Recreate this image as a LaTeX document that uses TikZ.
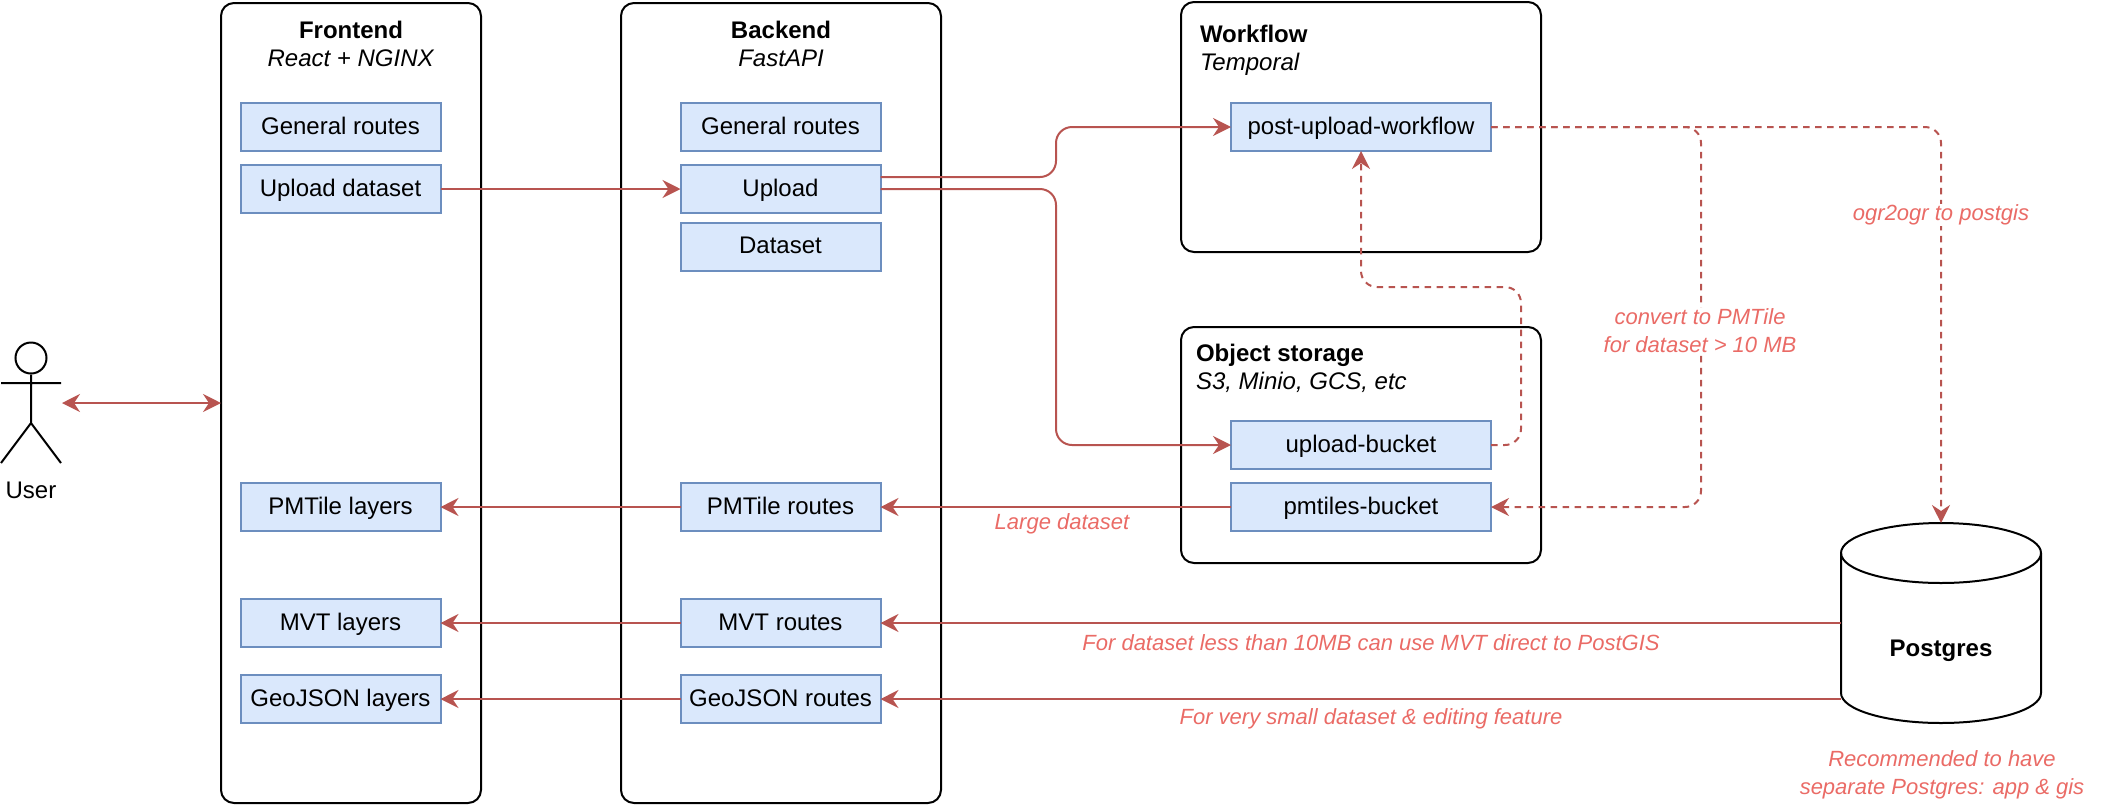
\documentclass[tikz,border=0pt]{standalone}
\usepackage{fontspec}
\setmainfont{Liberation Sans}
\usetikzlibrary{%
  positioning
 ,arrows.meta
}
\definecolor{boxfill}{HTML}{DAE8FC}
\definecolor{boxline}{HTML}{6C8EBF}
\definecolor{connline}{HTML}{B85450}
\definecolor{notetext}{HTML}{EA6B66}
\tikzstyle{arch}=[x=1pt,y=-1pt,on grid,line width=2pt,font=\fontsize{24}{28}\selectfont]
\tikzstyle{frame}=[draw=black,rounded corners=13pt,inner sep=0pt,outer sep=0pt]
\tikzstyle{st}=[draw=boxline,fill=boxfill,minimum height=48pt,inner sep=0pt,outer sep=0pt,text height=18pt,text depth=3.5pt]
\tikzstyle{st200}=[st,minimum width=200pt]
\tikzstyle{st260}=[st,minimum width=260pt]
\tikzstyle{conn}=[draw=connline,-{Stealth[length=18pt,width=18pt,inset=6pt]},rounded corners=16pt]
\tikzstyle{flow}=[conn,dash pattern=on 6.5pt off 5.5pt]
\tikzstyle{note}=[text=notetext,font=\fontsize{22}{28}\selectfont\itshape,align=center,inner sep=1pt]

\begin{document}
\begin{tikzpicture}[arch]
      \useasboundingbox (0,0) rectangle (2102,804);
      \node[frame,minimum width=260pt,minimum height=800pt] (frontend) at (351,403) {};
      \node[frame,minimum width=320pt,minimum height=800pt] (backend) at (781,403) {};
      \node[frame,minimum width=360pt,minimum height=250pt] (workflow) at (1361,127) {};
      \node[frame,minimum width=360pt,minimum height=236pt] (storage) at (1361,445) {};
      \node[align=center] (frontend_title) at (351,44) {\textbf{Frontend}\\\textit{React + NGINX}};
      \node[align=center] (backend_title) at (781,44) {\textbf{Backend}\\\textit{FastAPI}};
      \node[align=left,anchor=west,inner sep=0pt] (workflow_title) at (1199,50) {\textbf{Workflow}\\\textit{Temporal}};
      \node[align=left,anchor=west,inner sep=0pt] (storage_title) at (1195,368) {\textbf{Object storage}\\\textit{S3, Minio, GCS, etc}};

      \node[st200] (f_general) at (340.5,127) {General routes};
      \node[st200] (f_upload) [below=62pt of f_general] {Upload dataset};
      \node[st200] (f_pmtile) at (340.5,507) {PMTile layers};
      \node[st200] (f_mvt) [below=116pt of f_pmtile] {MVT layers};
      \node[st200] (f_geojson) [below=76pt of f_mvt] {GeoJSON layers};

      \node[st200] (b_general) at (780.5,127) {General routes};
      \node[st200] (b_upload) [below=62pt of b_general] {Upload};
      \node[st200] (b_dataset) [below=57.5pt of b_upload] {Dataset};
      \node[st200] (b_pmtile) at (780.5,507) {PMTile routes};
      \node[st200] (b_mvt) [below=116pt of b_pmtile] {MVT routes};
      \node[st200] (b_geojson) [below=76pt of b_mvt] {GeoJSON routes};

      \node[st260] (post_upload) at (1361,127) {post-upload-workflow};
      \node[st260] (upload_bucket) at (1361,445) {upload-bucket};
      \node[st260] (pmtiles_bucket) [below=62pt of upload_bucket] {pmtiles-bucket};

      \node[minimum width=200pt,minimum height=200pt,inner sep=0pt,outer sep=0pt] (postgres) at (1941,623) {};
      \draw ([yshift=-30pt]postgres.north west) arc[start angle=180,end angle=0,x radius=100pt,y radius=30pt]
        -- ([yshift=30pt]postgres.south east) arc[start angle=0,end angle=-180,x radius=100pt,y radius=30pt]
        -- cycle;
      \draw ([yshift=-30pt]postgres.north west) arc[start angle=180,end angle=360,x radius=100pt,y radius=30pt];
      \node[font=\fontsize{24}{28}\selectfont\bfseries] (postgres_label) at (1941,651) {Postgres};

      \node[circle,draw=black,minimum size=31pt,inner sep=0pt] (user_head) at (31,358) {};
      \coordinate (user_hip) at (31,423);
      \coordinate (user_hand_l) at (1,383);
      \coordinate (user_hand_r) at (61,383);
      \coordinate (user_foot_l) at (1,463);
      \coordinate (user_foot_r) at (61,463);
      \coordinate (user_side) at (62,403);
      \draw (user_head) -- (user_hip) (user_hand_l) -- (user_hand_r)
        (user_foot_l) -- (user_hip) -- (user_foot_r);
      \node (user_label) at (31,490) {User};

      \path
        (user_side) edge[conn,{Stealth[length=18pt,width=18pt,inset=6pt]}-{Stealth[length=18pt,width=18pt,inset=6pt]}] (frontend.west)
        (f_upload) edge[conn] (b_upload)
        (b_pmtile) edge[conn] (f_pmtile)
        (b_mvt) edge[conn] (f_mvt)
        (b_geojson) edge[conn] (f_geojson)
        (pmtiles_bucket) edge[conn] (b_pmtile)
        (postgres.west |- b_mvt) edge[conn] (b_mvt)
        (postgres.west |- b_geojson) edge[conn] (b_geojson);
      \draw[conn] ([yshift=12pt]b_upload.east) -| (1056,127) -- (post_upload);
      \draw[conn] (b_upload) -- (1056,189) |- (upload_bucket);

      \draw[flow] (post_upload) -- (1701,127) |- (pmtiles_bucket);
      \draw[flow] (post_upload) -| (postgres.north);
      \draw[flow] (upload_bucket) -- (1521,445) |- (1361,287) -- (post_upload);

      \node[note,fill=white] (ogr_note) at (1941,215) {ogr2ogr to postgis};
      \node[note,fill=white] (pmtile_note) at (1700,331) {convert to PMTile\\for dataset > 10 MB};
      \node[note] (large_note) at (1062,524) {Large dataset};
      \node[note] (mvt_note) at (1371,643) {For dataset less than 10MB can use MVT direct to PostGIS};
      \node[note] (small_note) at (1371,719) {For very small dataset \& editing feature};
      \node[note] (separate_note) at (1942,775) {Recommended to have\\separate Postgres: app \& gis};
    \end{tikzpicture}
\end{document}
